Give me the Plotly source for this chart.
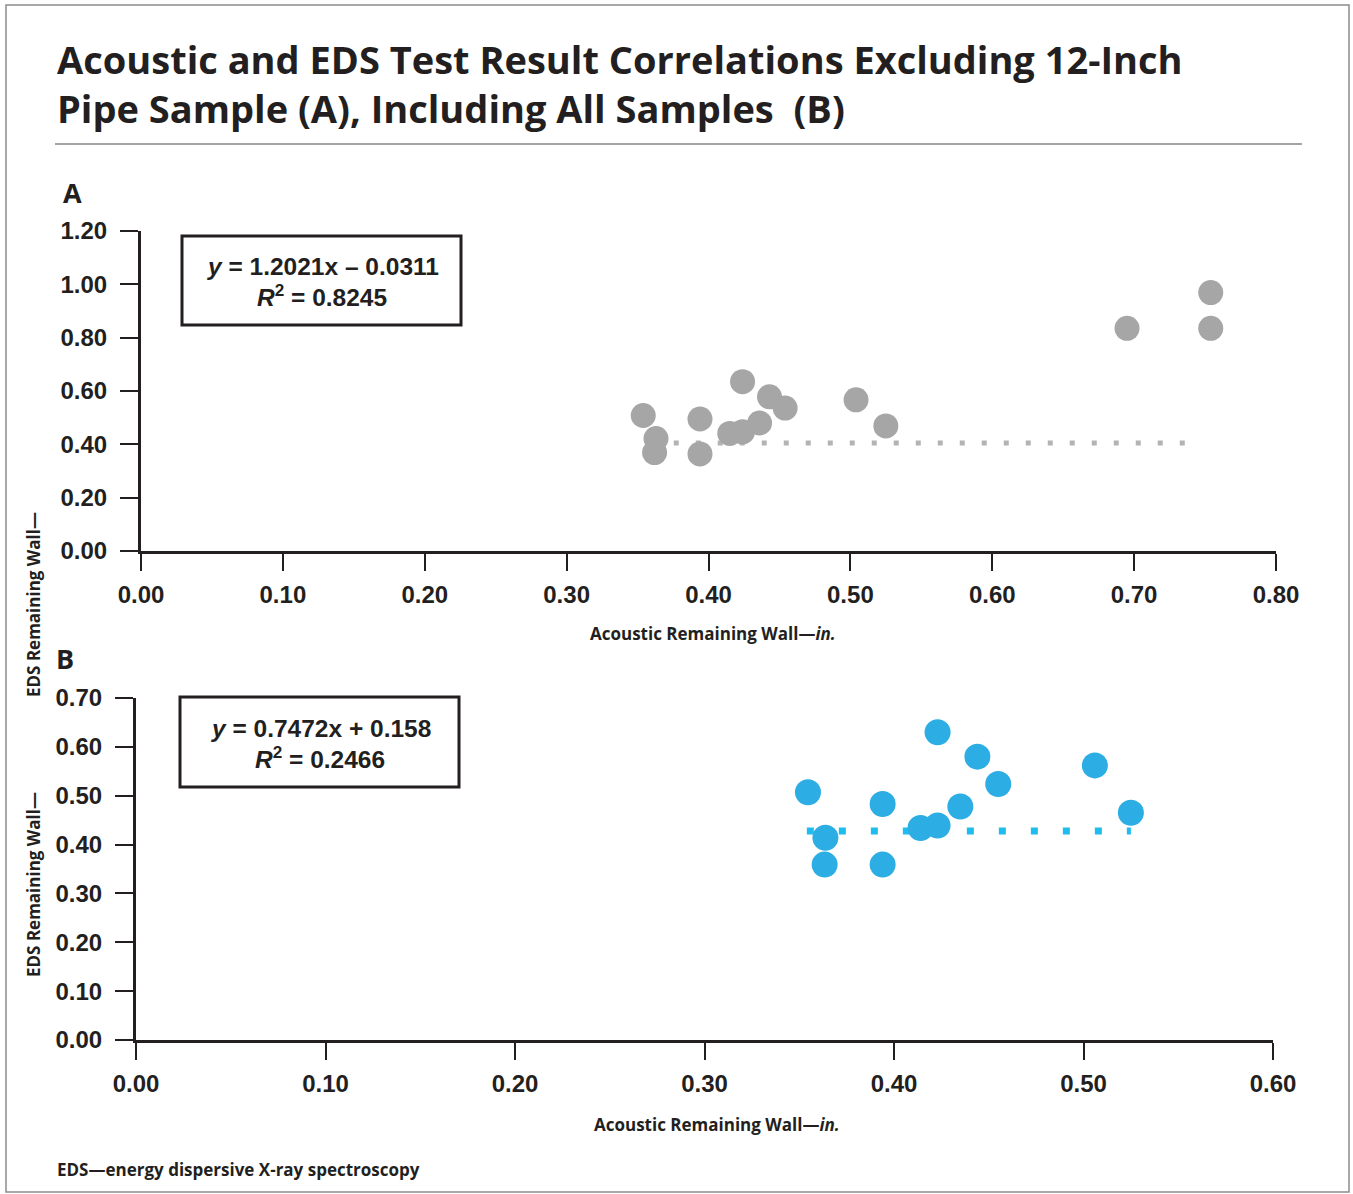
import plotly.graph_objects as go

W, H = 1353, 1194

# Panel A: all samples except the 12-inch pipe sample
acoustic_a = [0.354, 0.363, 0.362, 0.394, 0.394, 0.424, 0.415, 0.424, 0.436, 0.443,
              0.454, 0.504, 0.525, 0.695, 0.754, 0.754]
eds_a = [0.508, 0.422, 0.369, 0.495, 0.364, 0.635, 0.441, 0.447, 0.480, 0.578,
         0.536, 0.567, 0.469, 0.835, 0.969, 0.835]
trend_a_x = [0.36, 0.746]
trend_a_y = [0.405, 0.405]
eq_a = "<i>y</i> = 1.2021x – 0.0311"
r2_a = "<i>R</i><sup>2</sup> = 0.8245"
xticks_a = [0.0, 0.1, 0.2, 0.3, 0.4, 0.5, 0.6, 0.7, 0.8]
yticks_a = [0.0, 0.2, 0.4, 0.6, 0.8, 1.0, 1.2]

# Panel B
acoustic_b = [0.3546, 0.3638, 0.3634, 0.394, 0.394, 0.414, 0.423, 0.423, 0.435,
              0.444, 0.455, 0.506, 0.525]
eds_b = [0.507, 0.414, 0.359, 0.483, 0.359, 0.434, 0.439, 0.630, 0.478, 0.580,
         0.524, 0.562, 0.465]
trend_b_x = [0.354, 0.525]
trend_b_y = [0.428, 0.428]
eq_b = "<i>y</i> = 0.7472x + 0.158"
r2_b = "<i>R</i><sup>2</sup> = 0.2466"
xticks_b = [0.0, 0.1, 0.2, 0.3, 0.4, 0.5, 0.6]
yticks_b = [0.0, 0.1, 0.2, 0.3, 0.4, 0.5, 0.6, 0.7]

title_text = ("Acoustic and EDS Test Result Correlations Excluding 12-Inch<br>"
              "Pipe Sample (A), Including All Samples  (B)")
x_title = "Acoustic Remaining Wall—<i>in.</i>"
y_title = "EDS Remaining Wall—"
footnote = "EDS—energy dispersive X-ray spectroscopy"

GRAY = "#a6a6a6"
GRAY_LINE = "#b3b3b3"
BLUE = "#2cade3"
BLUE_LINE = "#1ebdee"
INK = "#231f20"


def px(x):
    return x / W


def py(y):
    return 1 - y / H


fig = go.Figure()

fig.add_trace(go.Scatter(x=trend_a_x, y=trend_a_y, mode="lines",
                         line=dict(color=GRAY_LINE, width=5, dash="5px,17px"),
                         xaxis="x", yaxis="y", hoverinfo="skip"))
fig.add_trace(go.Scatter(x=acoustic_a, y=eds_a, mode="markers",
                         marker=dict(size=25, color=GRAY, line=dict(width=0)),
                         xaxis="x", yaxis="y", cliponaxis=False))
fig.add_trace(go.Scatter(x=trend_b_x, y=trend_b_y, mode="lines",
                         line=dict(color=BLUE_LINE, width=7, dash="7px,25px"),
                         xaxis="x2", yaxis="y2", hoverinfo="skip"))
fig.add_trace(go.Scatter(x=acoustic_b, y=eds_b, mode="markers",
                         marker=dict(size=26, color=BLUE, line=dict(width=0)),
                         xaxis="x2", yaxis="y2", cliponaxis=False))

tickfont = dict(family="Liberation Sans, Arial, sans-serif", size=24, color=INK,
                weight="bold")

axis_common = dict(showgrid=False, zeroline=False, showline=True, linecolor=INK,
                   linewidth=3, ticks="outside", tickcolor=INK, tickwidth=2,
                   tickfont=tickfont, tickformat=".2f", fixedrange=True,
                   automargin=False)
x_common = dict(ticklen=17, ticklabelstandoff=3, **axis_common)
y_common = dict(ticklen=18, ticklabelstandoff=8, **axis_common)

fig.update_layout(
    width=W, height=H,
    margin=dict(l=0, r=0, t=0, b=0, pad=0, autoexpand=False),
    paper_bgcolor="white", plot_bgcolor="white",
    showlegend=False,
    xaxis=dict(domain=[px(141), px(1276)], range=[0, 0.8], tickvals=xticks_a,
               anchor="y", **x_common),
    yaxis=dict(domain=[py(551), py(231)], range=[0, 1.2], tickvals=yticks_a,
               anchor="x", **y_common),
    xaxis2=dict(domain=[px(136), px(1273)], range=[0, 0.6], tickvals=xticks_b,
                anchor="y2", **x_common),
    yaxis2=dict(domain=[py(1040), py(698)], range=[0, 0.7], tickvals=yticks_b,
                anchor="x2", **y_common),
)

shapes = [
    # outer frame
    dict(type="rect", xref="paper", yref="paper", x0=px(6), x1=px(1349), y0=py(1192), y1=py(5),
         line=dict(color="#8c8c8c", width=1.5)),
    # rule under the title
    dict(type="line", xref="paper", yref="paper", x0=px(55), x1=px(1302), y0=py(144), y1=py(144),
         line=dict(color="#4d4d4d", width=1.2)),
    # equation boxes
    dict(type="rect", xref="paper", yref="paper", x0=px(182), x1=px(461), y0=py(325), y1=py(236),
         line=dict(color=INK, width=3), fillcolor="white"),
    dict(type="rect", xref="paper", yref="paper", x0=px(180), x1=px(459), y0=py(787), y1=py(697),
         line=dict(color=INK, width=3), fillcolor="white"),
]
fig.update_layout(shapes=shapes)

title_font = dict(family="Open Sans, Noto Sans, sans-serif", size=38, color=INK,
                  weight="bold")
small_font = dict(family="Open Sans, Noto Sans, sans-serif", size=17, color=INK,
                  weight="bold")
panel_font = dict(family="Open Sans, Noto Sans, sans-serif", size=27, color=INK,
                  weight="bold")
eq_font = dict(family="Liberation Sans, Arial, sans-serif", size=24.5, color=INK,
               weight="bold")

ann = [
    dict(text=title_text, x=px(55), y=py(84), xanchor="left", yanchor="middle", align="left",
         font=title_font),
    dict(text="A", x=px(72), y=py(192), xanchor="center", yanchor="middle", font=panel_font),
    dict(text="B", x=px(65), y=py(658), xanchor="center", yanchor="middle", font=panel_font),
    dict(text=eq_a, x=px(322), y=py(266), xanchor="center", yanchor="middle", font=eq_font),
    dict(text=r2_a, x=px(322), y=py(295), xanchor="center", yanchor="middle", font=eq_font),
    dict(text=eq_b, x=px(320), y=py(728), xanchor="center", yanchor="middle", font=eq_font),
    dict(text=r2_b, x=px(320), y=py(757), xanchor="center", yanchor="middle", font=eq_font),
    dict(text=x_title, x=px(713), y=py(633), xanchor="center", yanchor="middle", font=small_font),
    dict(text=x_title, x=px(717), y=py(1124), xanchor="center", yanchor="middle", font=small_font),
    dict(text=y_title, x=px(33), y=py(605), xanchor="center", yanchor="middle", textangle=-90,
         font=small_font),
    dict(text=y_title, x=px(33), y=py(885), xanchor="center", yanchor="middle", textangle=-90,
         font=small_font),
    dict(text=footnote, x=px(55), y=py(1169), xanchor="left", yanchor="middle", font=small_font),
]
for a in ann:
    a.update(xref="paper", yref="paper", showarrow=False)
fig.update_layout(annotations=ann)

fig.write_html("out.html")
